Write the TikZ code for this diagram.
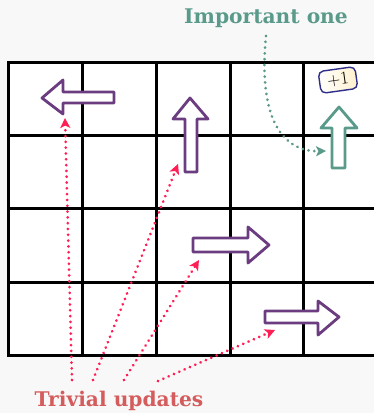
\documentclass[tikz,border=0pt]{standalone}
\usepackage{fontspec}
\newfontfamily\notefont{DejaVu Serif}
\usepackage{xcolor}
\usepackage{tikz}
\usetikzlibrary{arrows.meta, positioning, calc}

\definecolor{bgGray}{HTML}{F8F8F8}
\definecolor{movePurple}{HTML}{6B3D80}
\definecolor{keyTeal}{HTML}{5A9A8A}
\definecolor{noteRed}{HTML}{D45C5C}
\definecolor{dotRed}{HTML}{FF1F55}
\definecolor{badgeBlue}{HTML}{2E2E8A}
\definecolor{badgeFill}{HTML}{FFF1CC}

\begin{document}
\begin{tikzpicture}[
  x=1pt, y=-1pt,
  every node/.style={inner sep=0pt},
  notetext/.style={font=\notefont\fontsize{20.2}{24}\selectfont\bfseries},
  gridline/.style={line width=3pt, black, line cap=rect},
  blockarr/.style={line width=2.8pt, line join=round, fill=white},
  dotarr/.style={line width=3pt, line cap=round, dash pattern=on 0.01pt off 5.8pt,
                 -{Stealth[length=10pt, width=10pt, inset=2.5pt]}},
  badge/.style={draw=badgeBlue, line width=1.4pt, rounded corners=5pt,
                left color=white, right color=badgeFill,
                minimum width=37pt, minimum height=22pt,
                font=\fontsize{18}{20}\selectfont},
]
  \useasboundingbox[fill=bgGray] (0,0) rectangle (374,413);

  % board
  \fill[white] (8.5,62) rectangle (376,355);
  \foreach \x in {8.5, 82, 156, 230, 303.5}
    \draw[gridline] (\x,62) -- (\x,355);
  \foreach \y in {62, 135, 208.5, 282, 355}
    \draw[gridline] (8.5,\y) -- (376,\y);

  % moves
  \draw[blockarr, draw=movePurple] (42,98) -- (63,80) -- (63,92) -- (114,92)
    -- (114,103) -- (63,103) -- (63,114) -- cycle;
  \draw[blockarr, draw=movePurple] (190,98) -- (208,119) -- (197,119) -- (197,172)
    -- (185,172) -- (185,119) -- (173,119) -- cycle;
  \draw[blockarr, draw=movePurple] (269,245) -- (248,227) -- (248,238) -- (193,238)
    -- (193,252) -- (248,252) -- (248,263) -- cycle;
  \draw[blockarr, draw=movePurple] (339,317) -- (318,301) -- (318,311) -- (265,311)
    -- (265,323) -- (318,323) -- (318,335) -- cycle;
  \draw[blockarr, draw=keyTeal] (339,107) -- (357,128) -- (345,128) -- (345,168)
    -- (332,168) -- (332,128) -- (321,128) -- cycle;

  \node[badge, rotate=8] (reward) at (338,80) {+1};

  % labels
  \node[notetext, text=keyTeal] (imp) at (266,18) {Important one};
  \node[notetext, text=noteRed] (triv) at (119,401) {Trivial updates};

  \coordinate (impStart) at (266,36);
  \coordinate (impEnd) at (326,151);
  \draw[dotarr, keyTeal] (impStart) .. controls (258,118) and (282,152) .. (impEnd);

  \coordinate (tA) at (72,380);
  \coordinate (tB) at (93,380);
  \coordinate (tC) at (124,380);
  \coordinate (tD) at (158,381);
  \coordinate (mA) at (65,118);
  \coordinate (mB) at (178,164);
  \coordinate (mC) at (199,260);
  \coordinate (mD) at (275,330);
  \foreach \s/\t in {tA/mA, tB/mB, tC/mC, tD/mD}
    \draw[dotarr, dotRed] (\s) -- (\t);
\end{tikzpicture}
\end{document}
